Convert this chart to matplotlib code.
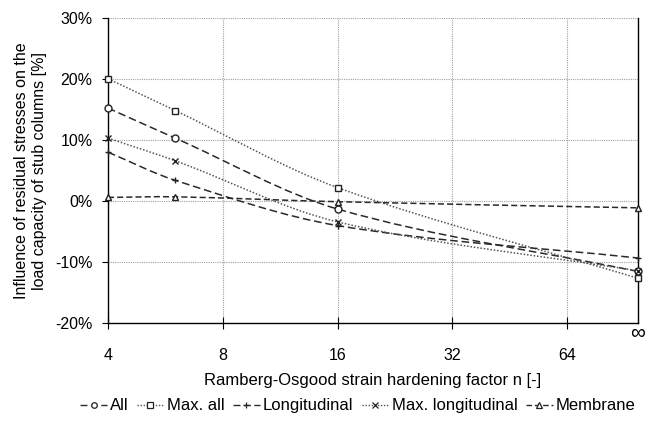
import numpy as np
import matplotlib.pyplot as plt
from matplotlib.path import Path
from matplotlib.patches import PathPatch
from matplotlib.lines import Line2D

plt.rcParams['font.family'] = ['Liberation Sans', 'DejaVu Sans']

# Data (n = inf is drawn at the right edge of the axis)
n_values = [4, 6, 16, np.inf]
n_inf_pos = 98
tick_n = [4, 8, 16, 32, 64]
tick_labels = ['4', '8', '16', '32', '64']

all_res = [15.2, 10.3, -1.3, -11.5]
max_all = [20.0, 14.8, 2.2, -12.6]
longitudinal = [8.0, 3.4, -4.0, -9.3]
max_longitudinal = [10.3, 6.6, -3.4, -11.4]
membrane = [0.6, 0.7, -0.1, -1.1]

series = [
    ('All', all_res, 'o', (0, (5, 2.5)), '#2a2a2a'),
    ('Max. all', max_all, 's', (0, (1, 1.2)), '#555555'),
    ('Longitudinal', longitudinal, '+', (0, (5, 2.5)), '#2a2a2a'),
    ('Max. longitudinal', max_longitudinal, 'x', (0, (1, 1.2)), '#555555'),
    ('Membrane', membrane, '^', (0, (4, 2)), '#2a2a2a'),
]

x = np.log2([n_inf_pos if np.isinf(v) else v for v in n_values])


def smooth_path(xs, ys):
    # cubic Hermite drawn as Bezier segments (smoothed line look)
    xs = np.asarray(xs, float)
    ys = np.asarray(ys, float)
    d = np.empty_like(ys)
    d[0] = (ys[1] - ys[0]) / (xs[1] - xs[0])
    d[-1] = (ys[-1] - ys[-2]) / (xs[-1] - xs[-2])
    d[1:-1] = (ys[2:] - ys[:-2]) / (xs[2:] - xs[:-2])
    verts = [(xs[0], ys[0])]
    codes = [Path.MOVETO]
    for i in range(len(xs) - 1):
        h = (xs[i + 1] - xs[i]) / 3
        verts += [(xs[i] + h, ys[i] + d[i] * h),
                  (xs[i + 1] - h, ys[i + 1] - d[i + 1] * h),
                  (xs[i + 1], ys[i + 1])]
        codes += [Path.CURVE4] * 3
    return Path(verts, codes)


fig = plt.figure(figsize=(6.45, 4.21), dpi=100)
ax = fig.add_axes([0.1674, 0.2316, 0.8216, 0.7268])

handles = []
for label, vals, mk, ls, col in series:
    ax.add_patch(PathPatch(smooth_path(x, vals), fill=False, edgecolor=col,
                           linestyle=ls, linewidth=1.1, zorder=3))
    ax.plot(x, vals, linestyle='none', marker=mk, markersize=5,
            markerfacecolor='white', markeredgecolor='#222222',
            markeredgewidth=1.0, zorder=4, clip_on=False)
    handles.append(Line2D([], [], color=col, linestyle=ls, linewidth=1.0,
                          marker=mk, markersize=4, markerfacecolor='white',
                          markeredgecolor='#222222', markeredgewidth=0.9))

ax.set_xlim(2, np.log2(n_inf_pos))
ax.set_ylim(-20, 30)
ax.set_xticks(np.log2(tick_n))
ax.set_xticklabels(tick_labels)
ax.set_yticks(np.arange(-20, 31, 10))
ax.set_yticklabels([f'{v}%' for v in range(-20, 31, 10)])
ax.tick_params(axis='x', direction='inout', length=8, width=0.8, labelsize=11.5, pad=14)
ax.tick_params(axis='y', direction='out', length=4, width=0.8, labelsize=11.5, pad=7)
ax.text(np.log2(n_inf_pos), -21.6, '\u221e', ha='center', va='center',
        fontsize=15, clip_on=False)

ax.grid(True, color='#a0a0a0', linestyle=(0, (1, 1)), linewidth=0.8)
ax.set_axisbelow(True)
for side in ['left', 'bottom', 'right']:
    ax.spines[side].set_linewidth(1.0)
ax.spines['top'].set_visible(False)

ax.set_xlabel('Ramberg-Osgood strain hardening factor n [-]', fontsize=12, labelpad=7)
ax.set_ylabel('Influence of residual stresses on the\nload capacity of stub columns [%]',
              fontsize=11.5, labelpad=6, multialignment='center')

fig.legend(handles, [s[0] for s in series], loc='center', bbox_to_anchor=(0.555, 0.036),
           ncol=5, frameon=False, fontsize=12, handlelength=1.6, handletextpad=0.2,
           columnspacing=0.5)

fig.savefig('out.png', dpi=100)
